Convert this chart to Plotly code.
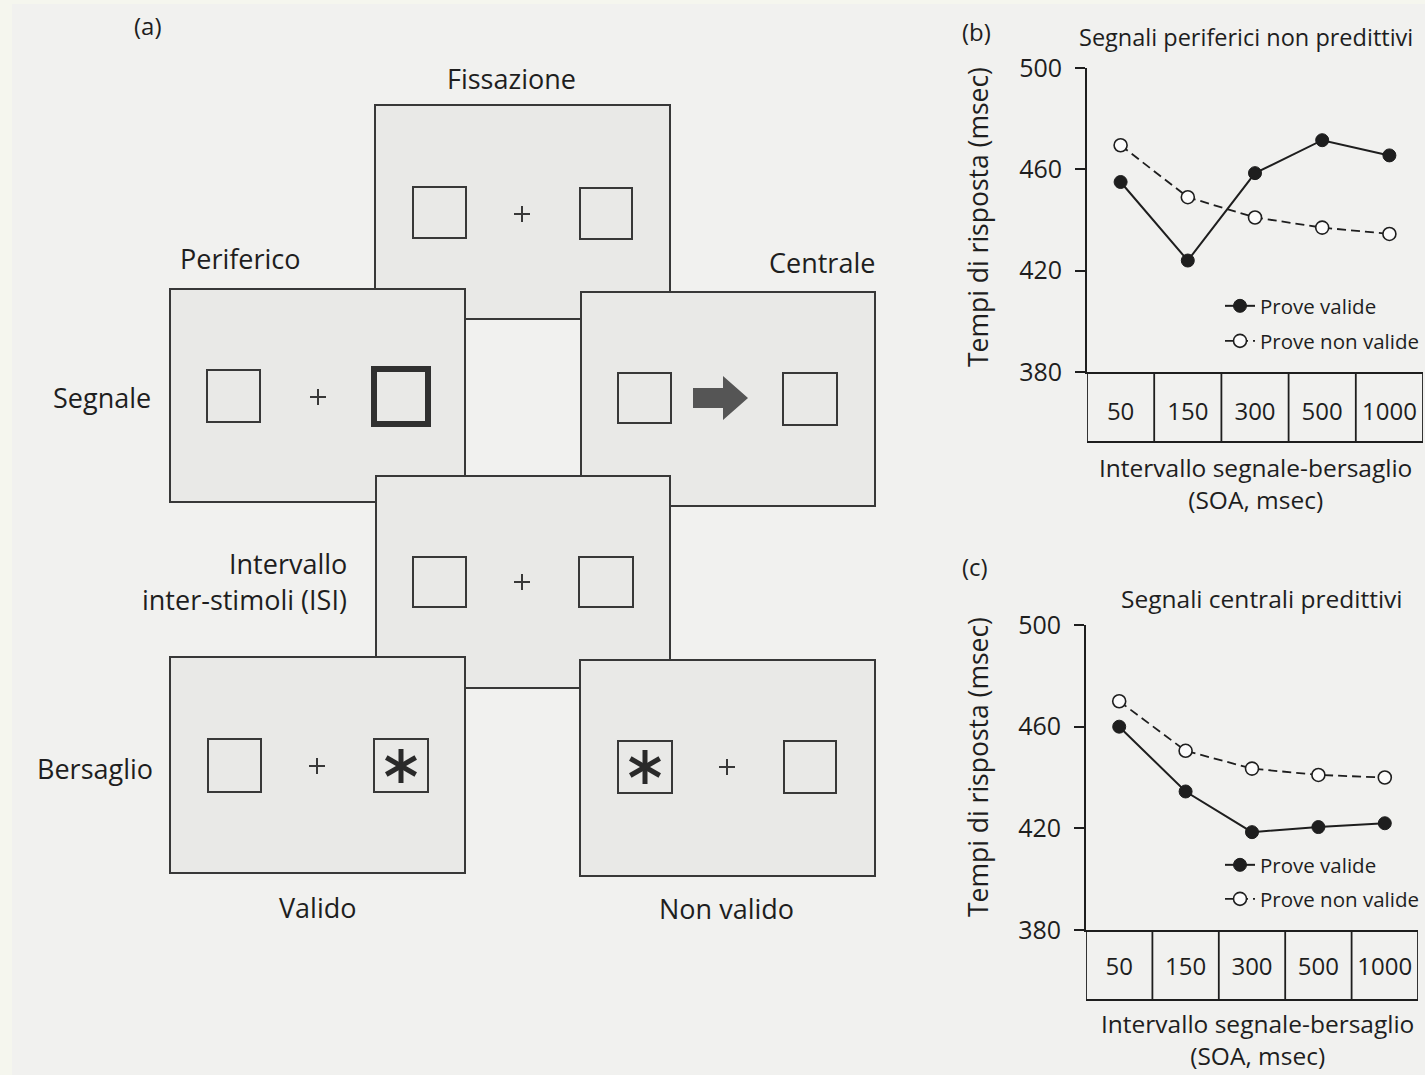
import math
import plotly.graph_objects as go

W, H = 1425, 1075

# ---------------- data ----------------
soa_labels = ["50", "150", "300", "500", "1000"]
b_valid = [455, 424, 458.5, 471.5, 465.5]
b_invalid = [469.5, 449, 441, 437, 434.5]
c_valid = [460, 434.5, 418.5, 420.5, 422]
c_invalid = [470, 450.5, 443.5, 441, 440]
y_ticks = [380, 420, 460, 500]
series_names = ["Prove valide", "Prove non valide"]

FONT = "'Open Sans', Lato, sans-serif"
INK = "#1e1e1e"
PAGE = "#f1f1ef"
PANEL = "#e9e9e7"


def px(x):
    return x / W


def py(y):
    return 1 - y / H


fig = go.Figure()

# ---------------- line charts ----------------
for xa, ya, legs, valid, invalid in [
    ("x", "y", ("legend", "legend2"), b_valid, b_invalid),
    ("x2", "y2", ("legend3", "legend4"), c_valid, c_invalid),
]:
    fig.add_trace(go.Scatter(
        x=soa_labels, y=valid, xaxis=xa, yaxis=ya, mode="lines+markers",
        name=series_names[0], legend=legs[0],
        line=dict(color=INK, width=2),
        marker=dict(size=13, color=INK, line=dict(color=INK, width=1)),
    ))
    fig.add_trace(go.Scatter(
        x=soa_labels, y=invalid, xaxis=xa, yaxis=ya, mode="lines+markers",
        name=series_names[1], legend=legs[1],
        line=dict(color=INK, width=1.8, dash="9px,5px"),
        marker=dict(size=13, color="#fbfbfb", line=dict(color=INK, width=1.6)),
    ))

# invisible trace for the pixel-space diagram axes
fig.add_trace(go.Scatter(x=[0], y=[0], xaxis="x3", yaxis="y3", mode="markers",
                         marker=dict(opacity=0), showlegend=False, hoverinfo="skip"))

axis_common_x = dict(
    type="category", range=[-0.5, 4.5], showline=True, linecolor=INK, linewidth=1.8,
    ticks="", showgrid=False, zeroline=False, automargin=False,
    tickfont=dict(family=FONT, size=24, color=INK), fixedrange=True,
)
axis_common_y = dict(
    range=[380, 500], tickvals=y_ticks, showline=True, linecolor=INK, linewidth=1.8,
    ticks="outside", ticklen=10, tickwidth=1.8, tickcolor=INK, showgrid=False,
    zeroline=False, ticklabelstandoff=8, automargin=False,
    tickfont=dict(family=FONT, size=25, color=INK), fixedrange=True,
)
legend_common = dict(xanchor="left", yanchor="middle", bgcolor="rgba(0,0,0,0)",
                     font=dict(family=FONT, size=20.5, color=INK),
                     itemwidth=30, tracegroupgap=0)

fig.update_layout(
    width=W, height=H,
    margin=dict(l=0, r=0, t=0, b=0, pad=0, autoexpand=False),
    paper_bgcolor=PAGE, plot_bgcolor="rgba(0,0,0,0)",
    font=dict(family=FONT, color=INK),
    xaxis=dict(domain=[px(1087), px(1423)], anchor="y", ticklabelstandoff=17, **axis_common_x),
    yaxis=dict(domain=[py(372), py(68)], anchor="x", **axis_common_y),
    xaxis2=dict(domain=[px(1086), px(1418)], anchor="y2", ticklabelstandoff=14, **axis_common_x),
    yaxis2=dict(domain=[py(930), py(625)], anchor="x2", **axis_common_y),
    xaxis3=dict(domain=[0, 1], range=[0, W], visible=False, anchor="y3",
                fixedrange=True, automargin=False),
    yaxis3=dict(domain=[0, 1], range=[H, 0], visible=False, anchor="x3",
                fixedrange=True, automargin=False),
    legend=dict(x=px(1220), y=py(306), **legend_common),
    legend2=dict(x=px(1220), y=py(341), **legend_common),
    legend3=dict(x=px(1220), y=py(865), **legend_common),
    legend4=dict(x=px(1220), y=py(899), **legend_common),
    showlegend=True,
)

shapes = []

# page edge strips (scan)
shapes.append(dict(type="rect", xref="paper", yref="paper", x0=0, x1=px(12), y0=0, y1=1,
                   fillcolor="#f5f6ee", line=dict(width=0), layer="below"))
shapes.append(dict(type="rect", xref="paper", yref="paper", x0=0, x1=1, y0=py(4), y1=1,
                   fillcolor="#f5f6ee", line=dict(width=0), layer="below"))

# table cells under each chart
for xa, top, bot in [("x", 372, 442), ("x2", 930, 1000)]:
    for k in range(6):
        shapes.append(dict(type="line", xref=xa, yref="paper", x0=k - 0.5, x1=k - 0.5,
                           y0=py(top), y1=py(bot), line=dict(color=INK, width=1.8)))
    shapes.append(dict(type="line", xref=xa, yref="paper", x0=-0.5, x1=4.5,
                       y0=py(bot), y1=py(bot), line=dict(color=INK, width=1.8)))

# ---------------- diagram (a) in pixel space ----------------
D = dict(xref="x3", yref="y3")


def rect(x0, y0, x1, y1, fill=None, width=2, color="#383838"):
    shapes.append(dict(type="rect", x0=x0, y0=y0, x1=x1, y1=y1,
                       fillcolor=fill if fill else "rgba(0,0,0,0)",
                       line=dict(color=color, width=width), **D))


def line(x0, y0, x1, y1, width=2, color="#383838"):
    shapes.append(dict(type="line", x0=x0, y0=y0, x1=x1, y1=y1,
                       line=dict(color=color, width=width), **D))


def plus(cx, cy, r=8):
    line(cx - r, cy, cx + r, cy, width=2)
    line(cx, cy - r, cx, cy + r, width=2)


def asterisk(cx, cy, r=17):
    for ang in (90, 30, 150):
        a = math.radians(ang)
        dx, dy = r * math.cos(a), r * math.sin(a)
        line(cx - dx, cy - dy, cx + dx, cy + dy, width=5, color="#2a2a2a")


panels = [
    (375, 105, 670, 319),   # Fissazione
    (170, 289, 465, 502),   # Segnale periferico
    (581, 292, 875, 506),   # Segnale centrale
    (376, 476, 670, 688),   # ISI
    (170, 657, 465, 873),   # Bersaglio valido
    (580, 660, 875, 876),   # Bersaglio non valido
]
for (x0, y0, x1, y1) in panels:
    rect(x0, y0, x1, y1, fill=PANEL, width=2)

# fixation
rect(413, 187, 466, 238)
rect(580, 188, 632, 239)
plus(522, 214)
# peripheral cue
rect(207, 370, 260, 422)
rect(374, 369, 428, 424, width=6, color="#303030")
plus(318, 397)
# central cue
rect(618, 373, 671, 423)
rect(783, 373, 837, 425)
shapes.append(dict(type="path",
                   path="M 693 388 L 723 388 L 723 376 L 748 398 L 723 420 L 723 408 L 693 408 Z",
                   fillcolor="#555555", line=dict(width=0), **D))
# ISI
rect(413, 557, 466, 607)
rect(579, 557, 633, 607)
plus(522, 582)
# target valid
rect(208, 739, 261, 792)
rect(374, 739, 428, 792)
asterisk(401, 766)
plus(317, 766)
# target invalid
rect(618, 741, 672, 793)
asterisk(645, 767)
rect(784, 741, 836, 793)
plus(727, 767)

fig.update_layout(shapes=shapes)

# ---------------- texts ----------------
ann = []


def txt(x, y, s, size=27, xanchor="center", angle=0):
    ann.append(dict(text=s, x=x, y=y, xref="x3", yref="y3", showarrow=False,
                    xanchor=xanchor, yanchor="middle", textangle=angle,
                    font=dict(family=FONT, size=size, color=INK)))


txt(148, 25, "(a)", 24)
txt(511, 78, "Fissazione", 27)
txt(240, 258, "Periferico", 27)
txt(822, 262, "Centrale", 27)
txt(102, 397, "Segnale", 27)
txt(349, 563, "Intervallo", 27, xanchor="right")
txt(349, 599, "inter-stimoli (ISI)", 27, xanchor="right")
txt(95, 768, "Bersaglio", 27)
txt(318, 907, "Valido", 27)
txt(726, 908, "Non valido", 27)

# chart (b)
txt(976, 31, "(b)", 24)
txt(1077, 37, "Segnali periferici non predittivi", 23.5, xanchor="left")
txt(978, 217, "Tempi di risposta (msec)", 26.5, angle=-90)
txt(1255, 483, "Intervallo segnale-bersaglio<br>(SOA, msec)", 24.5)
# chart (c)
txt(975, 566, "(c)", 24)
txt(1262, 598, "Segnali centrali predittivi", 24.5)
txt(978, 767, "Tempi di risposta (msec)", 26.5, angle=-90)
txt(1257, 1039, "Intervallo segnale-bersaglio<br>(SOA, msec)", 24.5)

fig.update_layout(annotations=ann)

fig.write_html("out.html", config={"displayModeBar": False},
               post_script="document.body.style.margin='0';")
